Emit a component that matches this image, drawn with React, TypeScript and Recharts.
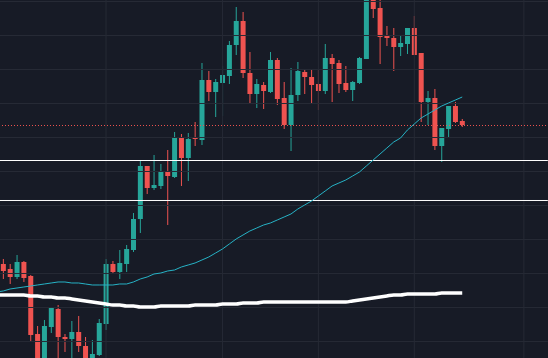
import { ComposedChart, Bar, Line, XAxis, YAxis, ReferenceLine } from "recharts";

document.body.style.margin = "0";
document.body.style.background = "#171b26";

const UP = "#26a69a";
const DOWN = "#ef5350";

const opens = [
  736, 731, 723, 738, 724, 666, 620, 673, 691, 663,
  661, 668, 654, 630, 645, 676, 736, 728, 736, 750,
  781, 834, 812, 814, 829, 823, 863, 842, 863, 860,
  920, 908, 917, 924, 955, 979, 927, 906, 915, 908,
  940, 902, 875, 905, 928, 923, 916, 909, 942, 937,
  917, 910, 917, 941, 1005, 992, 964, 962, 953, 956,
  972, 947, 898, 902, 854, 871, 894, 879,
];
const highs = [
  741, 736, 745, 739, 725, 674, 680, 693, 695, 666,
  679, 684, 663, 660, 681, 741, 739, 750, 755, 787,
  840, 834, 845, 836, 850, 868, 866, 867, 878, 937,
  929, 921, 934, 959, 993, 988, 948, 921, 918, 948,
  942, 918, 932, 938, 930, 930, 931, 956, 946, 940,
  934, 919, 943, 1010, 1010, 1002, 974, 972, 965, 972,
  984, 947, 909, 911, 872, 894, 898, 881,
];
const lows = [
  721, 716, 721, 718, 658, 620, 615, 667, 638, 648,
  638, 648, 625, 625, 644, 670, 726, 721, 728, 748,
  767, 806, 810, 811, 775, 822, 814, 819, 854, 855,
  899, 883, 884, 916, 945, 922, 897, 892, 891, 907,
  895, 871, 849, 899, 906, 897, 890, 906, 898, 907,
  908, 899, 916, 941, 982, 936, 954, 929, 944, 946,
  945, 878, 875, 850, 838, 862, 877, 873,
];
const closes = [
  729, 723, 738, 722, 665, 628, 674, 692, 663, 661,
  668, 654, 630, 646, 677, 736, 728, 737, 751, 781,
  834, 812, 815, 829, 824, 863, 842, 861, 861, 920,
  908, 918, 925, 955, 979, 927, 906, 916, 909, 940,
  901, 875, 905, 929, 923, 915, 909, 942, 936, 916,
  910, 918, 942, 1005, 991, 963, 962, 953, 957, 972,
  945, 898, 902, 854, 872, 894, 878, 875,
];
// moving averages, starting one bar before the first visible candle
const maFast = [
  708,
  709, 711, 712, 713, 714, 715, 716, 717, 718, 718,
  717, 717, 716, 715, 715, 715, 715, 716, 716, 718,
  721, 723, 726, 727, 729, 730, 733, 735, 737, 740,
  743, 747, 751, 756, 761, 765, 769, 772, 775, 777,
  780, 783, 786, 791, 795, 799, 804, 809, 814, 817,
  820, 824, 828, 834, 840, 846, 852, 858, 862, 870,
  876, 882, 886, 890, 894, 897, 900, 903,
];
const maSlow = [
  705,
  705, 705, 705, 705, 704, 704, 703, 703, 702, 702,
  701, 700, 699, 698, 697, 696, 695, 695, 694, 694,
  693, 693, 693, 694, 694, 694, 694, 694, 695, 695,
  695, 695, 696, 696, 696, 697, 697, 697, 698, 698,
  698, 698, 698, 698, 698, 698, 698, 698, 698, 698,
  698, 699, 700, 701, 702, 703, 704, 705, 705, 706,
  706, 706, 706, 706, 707, 707, 707, 707,
];

const SLOTS = 81; // one hidden bar on the left, empty space on the right
const BAND = 6.85;
const priceGrid = [998.5, 964.5, 930.5, 896.5, 862.5, 828.5, 794.5, 760.5, 726.5, 692.5, 658.5];
const timeGrid = [15, 32, 46, 60, 76];
const levels = [839.5, 799.5];
const lastPrice = 874.5;

const data = Array.from({ length: SLOTS }, (_, j) => {
  const i = j - 1;
  const row: any = { i, fast: maFast[j], slow: maSlow[j] };
  if (i >= 0 && i < opens.length) {
    row.open = opens[i];
    row.close = closes[i];
    row.high = highs[i];
    row.low = lows[i];
    row.range = [lows[i], highs[i]];
  }
  return row;
});

function Candle(props: any) {
  const { x, y, width, height, payload } = props;
  if (!payload || payload.open == null) return null;
  const { open, close, high, low } = payload;
  const k = height / (high - low);
  const top = y + (high - Math.max(open, close)) * k;
  const bodyH = Math.max(1, Math.abs(open - close) * k);
  const color = close >= open ? UP : DOWN;
  const cx = x + width / 2;
  return (
    <g>
      <line x1={cx} x2={cx} y1={y} y2={y + height} stroke={color} strokeWidth={1} />
      <rect x={x} y={top} width={width} height={bodyH} fill={color} />
    </g>
  );
}

export default function App() {
  return (
    <div style={{ width: 548, height: 358, overflow: "hidden", background: "#171b26" }}>
      <div style={{ marginLeft: -BAND }}>
        <ComposedChart
          width={SLOTS * BAND}
          height={358}
          data={data}
          margin={{ top: 0, right: 0, bottom: 0, left: 0 }}
        >
          <XAxis dataKey="i" type="category" hide />
          <YAxis domain={[642, 1000]} allowDataOverflow hide />
          {priceGrid.map((p) => (
            <ReferenceLine key={"h" + p} y={p} stroke="#262a35" strokeWidth={1} />
          ))}
          {timeGrid.map((t) => (
            <ReferenceLine key={"v" + t} x={t} stroke="#262a35" strokeWidth={1} />
          ))}
          <ReferenceLine y={lastPrice} stroke={DOWN} strokeDasharray="1 2" strokeWidth={1} />
          {levels.map((l) => (
            <ReferenceLine key={"l" + l} y={l} stroke="#ffffff" strokeWidth={1} />
          ))}
          <Bar dataKey="range" barSize={5} shape={<Candle />} isAnimationActive={false} />
          <Line
            type="linear"
            dataKey="fast"
            stroke="#26b3c6"
            strokeWidth={1}
            dot={false}
            activeDot={false}
            isAnimationActive={false}
          />
          <Line
            type="monotone"
            dataKey="slow"
            stroke="#ffffff"
            strokeWidth={3.5}
            dot={false}
            activeDot={false}
            isAnimationActive={false}
          />
        </ComposedChart>
      </div>
    </div>
  );
}
